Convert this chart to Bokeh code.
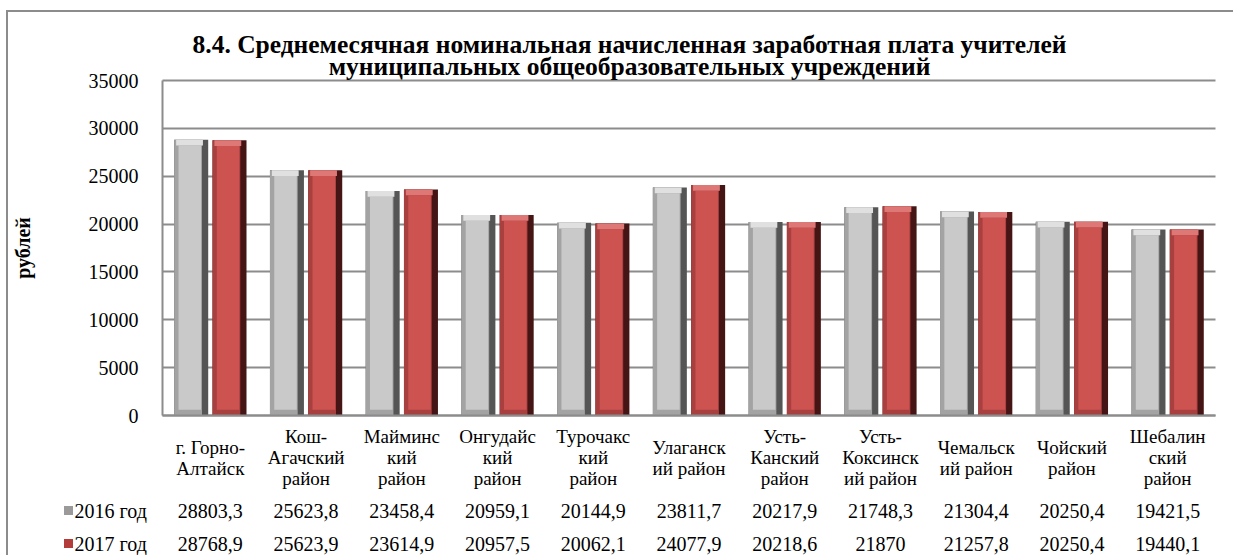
from bokeh.plotting import figure
from bokeh.models import Range1d, FixedTicker, ColumnDataSource, LinearAxis
from bokeh.layouts import column
from bokeh.core.properties import value
from bokeh.embed import file_html
from bokeh.resources import INLINE
import numpy as np

title_lines = ["8.4. Среднемесячная номинальная начисленная заработная плата учителей",
               "муниципальных общеобразовательных учреждений"]
categories = ["г. Горно-\nАлтайск", "Кош-\nАгачский\nрайон", "Майминс\nкий\nрайон",
              "Онгудайс\nкий\nрайон", "Турочакс\nкий\nрайон", "Улаганск\nий район",
              "Усть-\nКанский\nрайон", "Усть-\nКоксинск\nий район", "Чемальск\nий район",
              "Чойский\nрайон", "Шебалин\nский\nрайон"]
series = ["2016 год", "2017 год"]
v2016 = [28803.3, 25623.8, 23458.4, 20959.1, 20144.9, 23811.7, 20217.9, 21748.3, 21304.4, 20250.4, 19421.5]
v2017 = [28768.9, 25623.9, 23614.9, 20957.5, 20062.1, 24077.9, 20218.6, 21870, 21257.8, 20250.4, 19440.1]
y_ticks = [0, 5000, 10000, 15000, 20000, 25000, 30000, 35000]
y_label = "рублей"

FONT = "Liberation Serif"
GRID = "#8c8c8c"

n = len(categories)
idx = np.arange(n)

# page layout in pixels
FIG_L, FIG_T, FIG_W, FIG_H = 8, 12, 1225, 543       # figure box (inside the grey chart border)
PL, PR, PT, PB = 162, 1215, 80, 415                  # plot area
YMAX = y_ticks[-1]
ppx = (PR - PL) / n
ppy = YMAX / (PB - PT)
def px2x(px):
    return -0.5 + (px - PL) / ppx
def py2y(py):
    return (PB - py) * ppy

p = figure(width=FIG_W, height=FIG_H, output_backend="svg", toolbar_location=None,
           x_range=Range1d(px2x(FIG_L), px2x(FIG_L + FIG_W)),
           y_range=Range1d(py2y(FIG_T + FIG_H), py2y(FIG_T)),
           min_border=0)
p.title.text = ""
p.title.visible = False
p.outline_line_color = None
p.background_fill_color = "white"
p.border_fill_color = "white"

# value axis drawn at the left edge of the plot area
p.yaxis.fixed_location = -0.5
p.yaxis.bounds = (0, YMAX)
p.yaxis.ticker = FixedTicker(ticks=y_ticks)
p.yaxis.major_label_text_font = FONT
p.yaxis.major_label_text_font_size = "20px"
p.yaxis.major_label_text_color = "black"
p.yaxis.major_tick_out = 0
p.yaxis.major_tick_in = 0
p.yaxis.minor_tick_out = 0
p.yaxis.minor_tick_in = 0
p.yaxis.major_label_standoff = 24
p.yaxis.axis_line_color = GRID
p.yaxis.axis_line_width = 2
p.yaxis.axis_label = y_label
p.yaxis.axis_label_text_font = FONT
p.yaxis.axis_label_text_font_style = "bold"
p.yaxis.axis_label_text_font_size = "20px"
p.yaxis.axis_label_text_color = "black"
p.yaxis.axis_label_standoff = 52

# category axes along the zero line: three-line names, and two-line names set lower so
# that every name block is centred on the same line
three = {i: (c if c.count("\n") == 2 else "") for i, c in enumerate(categories)}
two = {i: (c if c.count("\n") < 2 else "") for i, c in enumerate(categories)}
x2 = LinearAxis()
p.add_layout(x2, "below")
for ax, labels, standoff in ((p.xaxis[0], three, 10), (x2, two, 21)):
    ax.fixed_location = 0
    ax.bounds = (-0.5, n - 0.5)
    ax.ticker = FixedTicker(ticks=list(range(n)))
    ax.major_label_overrides = labels
    ax.major_label_text_font = FONT
    ax.major_label_text_font_size = "19px"
    ax.major_label_text_line_height = 1.0
    ax.major_label_text_color = "black"
    ax.major_tick_out = 0
    ax.major_tick_in = 0
    ax.minor_tick_out = 0
    ax.minor_tick_in = 0
    ax.major_label_standoff = standoff
    ax.axis_line_color = GRID
    ax.axis_line_width = 2
x2.axis_line_color = None

p.xgrid.grid_line_color = None
p.ygrid.ticker = FixedTicker(ticks=y_ticks)
p.ygrid.grid_line_color = GRID
p.ygrid.grid_line_width = 2
p.ygrid.cross_bounds = (-0.5, n - 0.5)

# bars with bevel look
off, w = 0.2, 0.355
edge_r, edge_l, bev = 0.065, 0.045, 600
styles = [
    (v2016, -off, ["#555555", "#a3a3a3", "#c9c9c9", "#e0e0e0"]),
    (v2017, off, ["#451414", "#a94040", "#cd5351", "#de7876"]),
]
for vals, dx, cols in styles:
    vals = np.array(vals)
    left = idx + dx - w / 2
    right = idx + dx + w / 2
    src = ColumnDataSource(dict(l=left, r=right, t=vals, b=np.zeros(n),
                                l2=left, r2=right - edge_r,
                                l3=left + edge_l, r3=right - edge_r - 0.01, t3=vals - bev, b3=np.zeros(n) + 600,
                                l4=left + 0.02, r4=right - edge_r + 0.01, b4=vals - bev))
    p.quad(left="l", right="r", top="t", bottom="b", source=src, fill_color=cols[0], line_color=None)
    p.quad(left="l2", right="r2", top="t", bottom="b", source=src, fill_color=cols[1], line_color=None)
    p.quad(left="l4", right="r4", top="t", bottom="b4", source=src, fill_color=cols[3], line_color=None)
    p.quad(left="l3", right="r3", top="t3", bottom="b3", source=src, fill_color=cols[2], line_color=None)

# title
title_y_px = [44, 66]
p.text([px2x(629)] * 2, [py2y(v) for v in title_y_px], text=title_lines, text_font=value(FONT),
       text_font_style="bold", text_font_size=value("25.5px"), text_align="center",
       text_baseline="middle", text_color="black")

# data table under the category labels
row_y_px = [510, 543]
sq_cols = ["#9a9a9a", "#b33c3a"]
for r, (name, vals) in enumerate(zip(series, [v2016, v2017])):
    ry = py2y(row_y_px[r])
    p.scatter([px2x(68)], [ry], marker="square", size=9, fill_color=sq_cols[r], line_color=None)
    p.text([px2x(74)], [ry], text=[name], text_font=value(FONT), text_font_size=value("20px"),
           text_align="left", text_baseline="middle", text_color="black")
    p.text(idx, [ry] * n, text=[f"{v:g}".replace(".", ",") for v in vals], text_font=value(FONT),
           text_font_size=value("20px"), text_align="center", text_baseline="middle", text_color="black")

layout = column(p, spacing=0, margin=(FIG_T - 2, 0, 0, FIG_L - 2),
                styles={"border-top": f"2px solid {GRID}", "border-left": f"2px solid {GRID}"})
open("out.html", "w").write(file_html(layout, INLINE))
